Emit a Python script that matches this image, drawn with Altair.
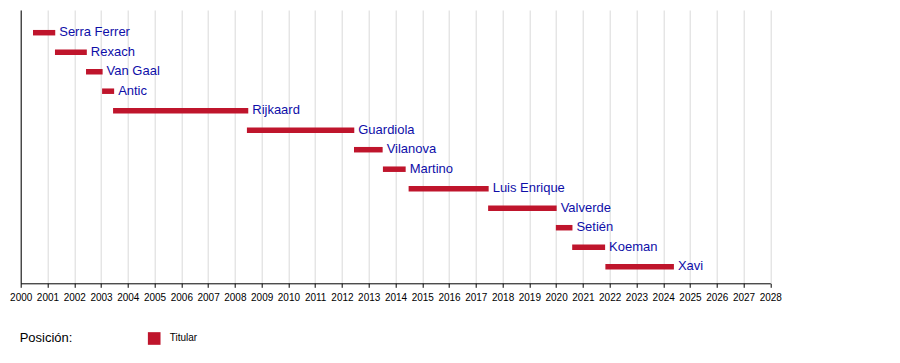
import altair as alt
import pandas as pd

names = ["Serra Ferrer", "Rexach", "Van Gaal", "Antic", "Rijkaard", "Guardiola",
         "Vilanova", "Martino", "Luis Enrique", "Valverde", "Setién", "Koeman", "Xavi"]
starts = [2000.46, 2001.28, 2002.44, 2003.04, 2003.45, 2008.45, 2012.45,
          2013.53, 2014.49, 2017.46, 2019.99, 2020.60, 2021.84]
ends = [2001.29, 2002.47, 2003.06, 2003.49, 2008.50, 2012.46, 2013.52,
        2014.38, 2017.48, 2020.02, 2020.61, 2021.83, 2024.40]
years = list(range(2000, 2029))
position = "Titular"

df = pd.DataFrame({
    "name": names,
    "start": starts,
    "end": ends,
    "row": list(range(len(names))),
    "pos": [position] * len(names),
})

BAR = "#BF152C"
TXT = "#0E0EA8"
FONT = "Liberation Sans"

xscale = alt.Scale(domain=[2000, 2028], nice=False, zero=False, padding=0)
xaxis = alt.Axis(values=years, format="d", title=None, labelFontSize=10,
                 labelFont=FONT, labelColor="black", tickSize=4,
                 tickColor="black", domainColor="black", labelFlush=False,
                 labelOverlap=False, labelPadding=5,
                 grid=True, gridColor="#d9d9d9", gridWidth=1)
yscale = alt.Scale(domain=[-1.164, 12.85], reverse=True, nice=False, zero=False,
                   padding=0)
yaxis = alt.Axis(labels=False, ticks=False, grid=False, title=None,
                 domainColor="black")

bars = alt.Chart(df).mark_bar(height=5.5).encode(
    x=alt.X("start:Q", scale=xscale, axis=xaxis),
    x2="end:Q",
    y=alt.Y("row:Q", scale=yscale, axis=yaxis),
    color=alt.Color("pos:N", scale=alt.Scale(range=[BAR]),
                    legend=alt.Legend(title="Posición:", orient="none",
                                      legendX=-1, legendY=322,
                                      titleOrient="left", titleFontSize=13,
                                      titleFontWeight="normal", titleColor="black",
                                      titleFont=FONT, titlePadding=75,
                                      titleBaseline="middle",
                                      symbolType="square", symbolSize=160,
                                      symbolStrokeWidth=0, symbolOpacity=1,
                                      labelFontSize=10, labelFont=FONT,
                                      labelColor="black", labelOffset=9)),
)

labels = alt.Chart(df).mark_text(align="left", baseline="middle", dx=4, dy=-0.5,
                                 fontSize=13, font=FONT, color=TXT).encode(
    x=alt.X("end:Q", scale=xscale, axis=xaxis),
    y=alt.Y("row:Q", scale=yscale, axis=yaxis),
    text="name:N",
)

chart = alt.layer(bars, labels).properties(
    width=749.6,
    height=273.3,
    padding={"left": 12.7, "top": 2, "right": 100, "bottom": 70},
    autosize=alt.AutoSizeParams(type="none"),
).configure_view(stroke=None)

chart.save("out.html", embed_options={"renderer": "svg", "actions": False})
